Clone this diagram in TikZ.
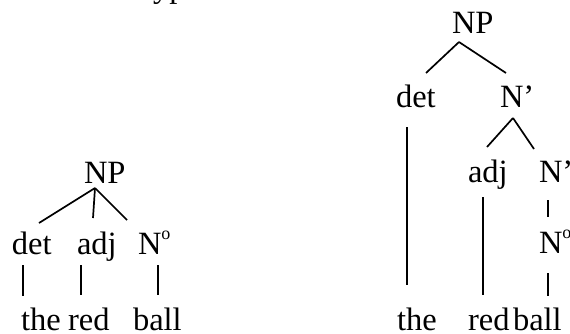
\documentclass[tikz,border=0pt]{standalone}
\usepackage{fontspec}
\setmainfont{Liberation Serif}
\newcommand{\nzero}{N\raisebox{15pt}{\fontsize{18}{20}\selectfont o}}
\begin{document}
\begin{tikzpicture}[x=1pt,y=-1pt,
  lbl/.style={anchor=base west,inner sep=0pt,outer sep=0pt,font=\fontsize{32.5}{38}\selectfont},
  edge/.style={line width=1.7pt,line cap=butt}]
\useasboundingbox (0,0) rectangle (570,333);
\clip (0,0) rectangle (570,333);
% cut-off heading fragment
\node[lbl] (head) at (153,-3) {yp};
% ---------- left tree ----------
\node[lbl] (np1)  at (84,183)  {NP};
\node[lbl] (det1) at (12,254)  {det};
\node[lbl] (adj1) at (77,254)  {adj};
\node[lbl] (n01)  at (138,254) {\nzero};
\node[lbl] (the1) at (21,330)  {the};
\node[lbl] (red1) at (68,330)  {red};
\node[lbl] (ball1) at (133,330) {ball};
\coordinate (np1b) at (95,188);
\coordinate (det1t) at (39,223);
\coordinate (adj1t) at (93,218);
\coordinate (n01t) at (127,220);
\coordinate (det1b) at (23,265); \coordinate (the1t) at (23,296);
\coordinate (adj1b) at (81,265); \coordinate (red1t) at (81,295);
\coordinate (n01b) at (158,265); \coordinate (ball1t) at (158,295);
\draw[edge] (np1b) -- (det1t);
\draw[edge] (np1b) -- (adj1t);
\draw[edge] (np1b) -- (n01t);
\draw[edge] (det1b) -- (the1t);
\draw[edge] (adj1b) -- (red1t);
\draw[edge] (n01b) -- (ball1t);
% ---------- right tree ----------
\node[lbl] (np2)  at (452,33)  {NP};
\node[lbl] (det2) at (396,107) {det};
\node[lbl] (nb2)  at (500,107) {N’};
\node[lbl] (adj2) at (468,182) {adj};
\node[lbl] (nb3)  at (539,182) {N’};
\node[lbl] (n02)  at (539,253) {\nzero};
\node[lbl] (the2) at (397,330) {the};
\node[lbl] (red2) at (468,330) {red};
\node[lbl] (ball2) at (513,330) {ball};
\coordinate (np2b) at (459,42);
\coordinate (det2t) at (426,73);
\coordinate (nb2t) at (506,73);
\coordinate (nb2b) at (513,118);
\coordinate (adj2t) at (487,147);
\coordinate (nb3t) at (534,149);
\coordinate (det2b) at (407,127); \coordinate (the2t) at (407,285);
\coordinate (adj2b) at (483,197); \coordinate (red2t) at (483,295);
\coordinate (nb3b) at (548,200); \coordinate (n02t) at (548,217);
\coordinate (n02b) at (548,273); \coordinate (ball2t) at (548,296);
\draw[edge] (np2b) -- (det2t);
\draw[edge] (np2b) -- (nb2t);
\draw[edge] (nb2b) -- (adj2t);
\draw[edge] (nb2b) -- (nb3t);
\draw[edge] (det2b) -- (the2t);
\draw[edge] (adj2b) -- (red2t);
\draw[edge] (nb3b) -- (n02t);
\draw[edge] (n02b) -- (ball2t);
\end{tikzpicture}
\end{document}
